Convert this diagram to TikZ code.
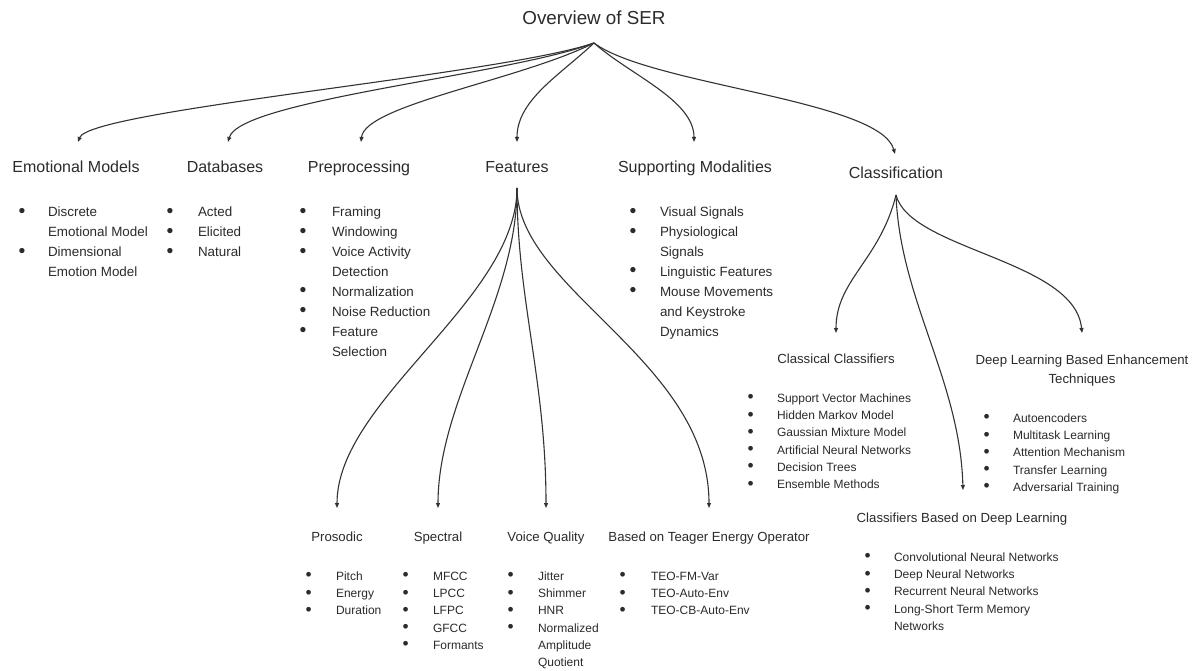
\documentclass[tikz,border=0pt]{standalone}
\usepackage{fontspec}
\setmainfont{Liberation Sans}
\usetikzlibrary{arrows.meta}
\definecolor{ink}{HTML}{2B2B2B}
\definecolor{linec}{HTML}{333333}
\newcommand{\fs}[2]{\fontsize{#1}{#2}\selectfont}
\newcommand{\bul}{\raisebox{-0.4pt}{\scalebox{1.45}{•}}}
\newcommand{\blist}[2]{\begin{tabular}[t]{@{}p{#1}@{}l@{}}#2\end{tabular}}
\begin{document}
\begin{tikzpicture}[x=1pt,y=-1pt,
  every node/.style={inner sep=0pt,outer sep=0pt,text=ink},
  ttl/.style={font=\fs{18.8}{22},anchor=base},
  head/.style={font=\fs{16}{19},anchor=base},
  subh/.style={font=\fs{13.2}{19},align=center},
  toplist/.style={font=\fs{13.4}{19.9},anchor=base west},
  botlist/.style={font=\fs{12}{17.3},anchor=base west},
  conn/.style={draw=linec,line width=1.1pt,-{Triangle[length=5pt,width=4pt]}},
]
\fill[white] (0,0) rectangle (1199,671);
\useasboundingbox (0,0) rectangle (1199,671);

% title and root
\node[ttl] (title) at (594,24.8) {Overview of SER};
\coordinate (root) at (594,43);

% headings
\node[head] (emo)  at (76,172.8)  {Emotional Models};
\node[head] (db)   at (225,172.8) {Databases};
\node[head] (pre)  at (359,172.8) {Preprocessing};
\node[head] (feat) at (517,172.8) {Features};
\node[head] (sup)  at (695,172.8) {Supporting Modalities};
\node[head] (cls)  at (896,178.8) {Classification};

% arrow tips
\coordinate (emoT)  at (78,142);
\coordinate (dbT)   at (228,142);
\coordinate (preT)  at (361,142);
\coordinate (featT) at (517,142);
\coordinate (supT)  at (694,142);
\coordinate (clsT)  at (895,154);

\draw[conn] (root) .. controls (500,75) and (90,110) .. (emoT);
\draw[conn] (root) .. controls (510,75) and (240,100) .. (dbT);
\draw[conn] (root) .. controls (520,80) and (365,105) .. (preT);
\draw[conn] (root) .. controls (560,75) and (517,100) .. (featT);
\draw[conn] (root) .. controls (630,75) and (694,100) .. (supT);
\draw[conn] (root) .. controls (650,85) and (880,100) .. (clsT);

% top lists
\node[toplist] (emoL) at (18.6,216.8) {\blist{29.4pt}{\bul&Discrete\\&Emotional Model\\\bul&Dimensional\\&Emotion Model}};
\node[toplist] (dbL) at (166.6,216.8) {\blist{31.4pt}{\bul&Acted\\\bul&Elicited\\\bul&Natural}};
\node[toplist] (preL) at (299.6,216.8) {\blist{32.4pt}{\bul&Framing\\\bul&Windowing\\\bul&Voice Activity\\&Detection\\\bul&Normalization\\\bul&Noise Reduction\\\bul&Feature\\&Selection}};
\node[toplist] (supL) at (629.6,216.8) {\blist{30.4pt}{\bul&Visual Signals\\\bul&Physiological\\&Signals\\\bul&Linguistic Features\\\bul&Mouse Movements\\&and Keystroke\\&Dynamics}};

% features subtree
\coordinate (fstem) at (517,188);
\coordinate (prosT) at (337,508);
\coordinate (specT) at (438,508);
\coordinate (vqT)   at (546,508);
\coordinate (teoT)  at (709,508);
\draw[conn] (fstem) .. controls (517,300) and (337,400) .. (prosT);
\draw[conn] (fstem) .. controls (517,300) and (438,400) .. (specT);
\draw[conn] (fstem) .. controls (517,300) and (546,380) .. (vqT);
\draw[conn] (fstem) .. controls (517,290) and (709,360) .. (teoT);

\node[subh,anchor=base] (pros) at (337,541.75) {Prosodic};
\node[subh,anchor=base] (spec) at (438,541.75) {Spectral};
\node[subh,anchor=base] (vq)   at (546,541.75) {Voice Quality};
\node[subh,anchor=base] (teo)  at (709,541.75) {Based on Teager Energy Operator};

\node[botlist] (prosL) at (305.6,580.3) {\blist{30.4pt}{\bul&Pitch\\\bul&Energy\\\bul&Duration}};
\node[botlist] (specL) at (402.6,580.3) {\blist{30.4pt}{\bul&MFCC\\\bul&LPCC\\\bul&LFPC\\\bul&GFCC\\\bul&Formants}};
\node[botlist] (vqL) at (507.6,580.3) {\blist{30.4pt}{\bul&Jitter\\\bul&Shimmer\\\bul&HNR\\\bul&Normalized\\&Amplitude\\&Quotient}};
\node[botlist] (teoL) at (619.6,580.3) {\blist{31.4pt}{\bul&TEO-FM-Var\\\bul&TEO-Auto-Env\\\bul&TEO-CB-Auto-Env}};

% classification subtree
\coordinate (cstem) at (896,195);
\coordinate (ccT) at (836,333);
\coordinate (deT) at (1082,333);
\coordinate (dcT) at (963,490);
\draw[conn] (cstem) .. controls (880,260) and (836,280) .. (ccT);
\draw[conn] (cstem) .. controls (910,250) and (1075,260) .. (deT);
\draw[conn] (cstem) .. controls (900,300) and (960,380) .. (dcT);

\node[subh,anchor=base] (cc) at (836,363.75) {Classical Classifiers};
\node[subh,anchor=center] (de) at (1082,371) {Deep Learning Based Enhancement\\Techniques};
\node[subh,anchor=base] (dc) at (962,522.75) {Classifiers Based on Deep Learning};

\node[botlist] (ccL) at (747.6,402.3) {\blist{29.4pt}{\bul&Support Vector Machines\\\bul&Hidden Markov Model\\\bul&Gaussian Mixture Model\\\bul&Artificial Neural Networks\\\bul&Decision Trees\\\bul&Ensemble Methods}};
\node[botlist] (deL) at (983.6,422.3) {\blist{29.4pt}{\bul&Autoencoders\\\bul&Multitask Learning\\\bul&Attention Mechanism\\\bul&Transfer Learning\\\bul&Adversarial Training}};
\node[botlist] (dcL) at (864.6,561.3) {\blist{29.4pt}{\bul&Convolutional Neural Networks\\\bul&Deep Neural Networks\\\bul&Recurrent Neural Networks\\\bul&Long-Short Term Memory\\&Networks}};
\end{tikzpicture}
\end{document}
